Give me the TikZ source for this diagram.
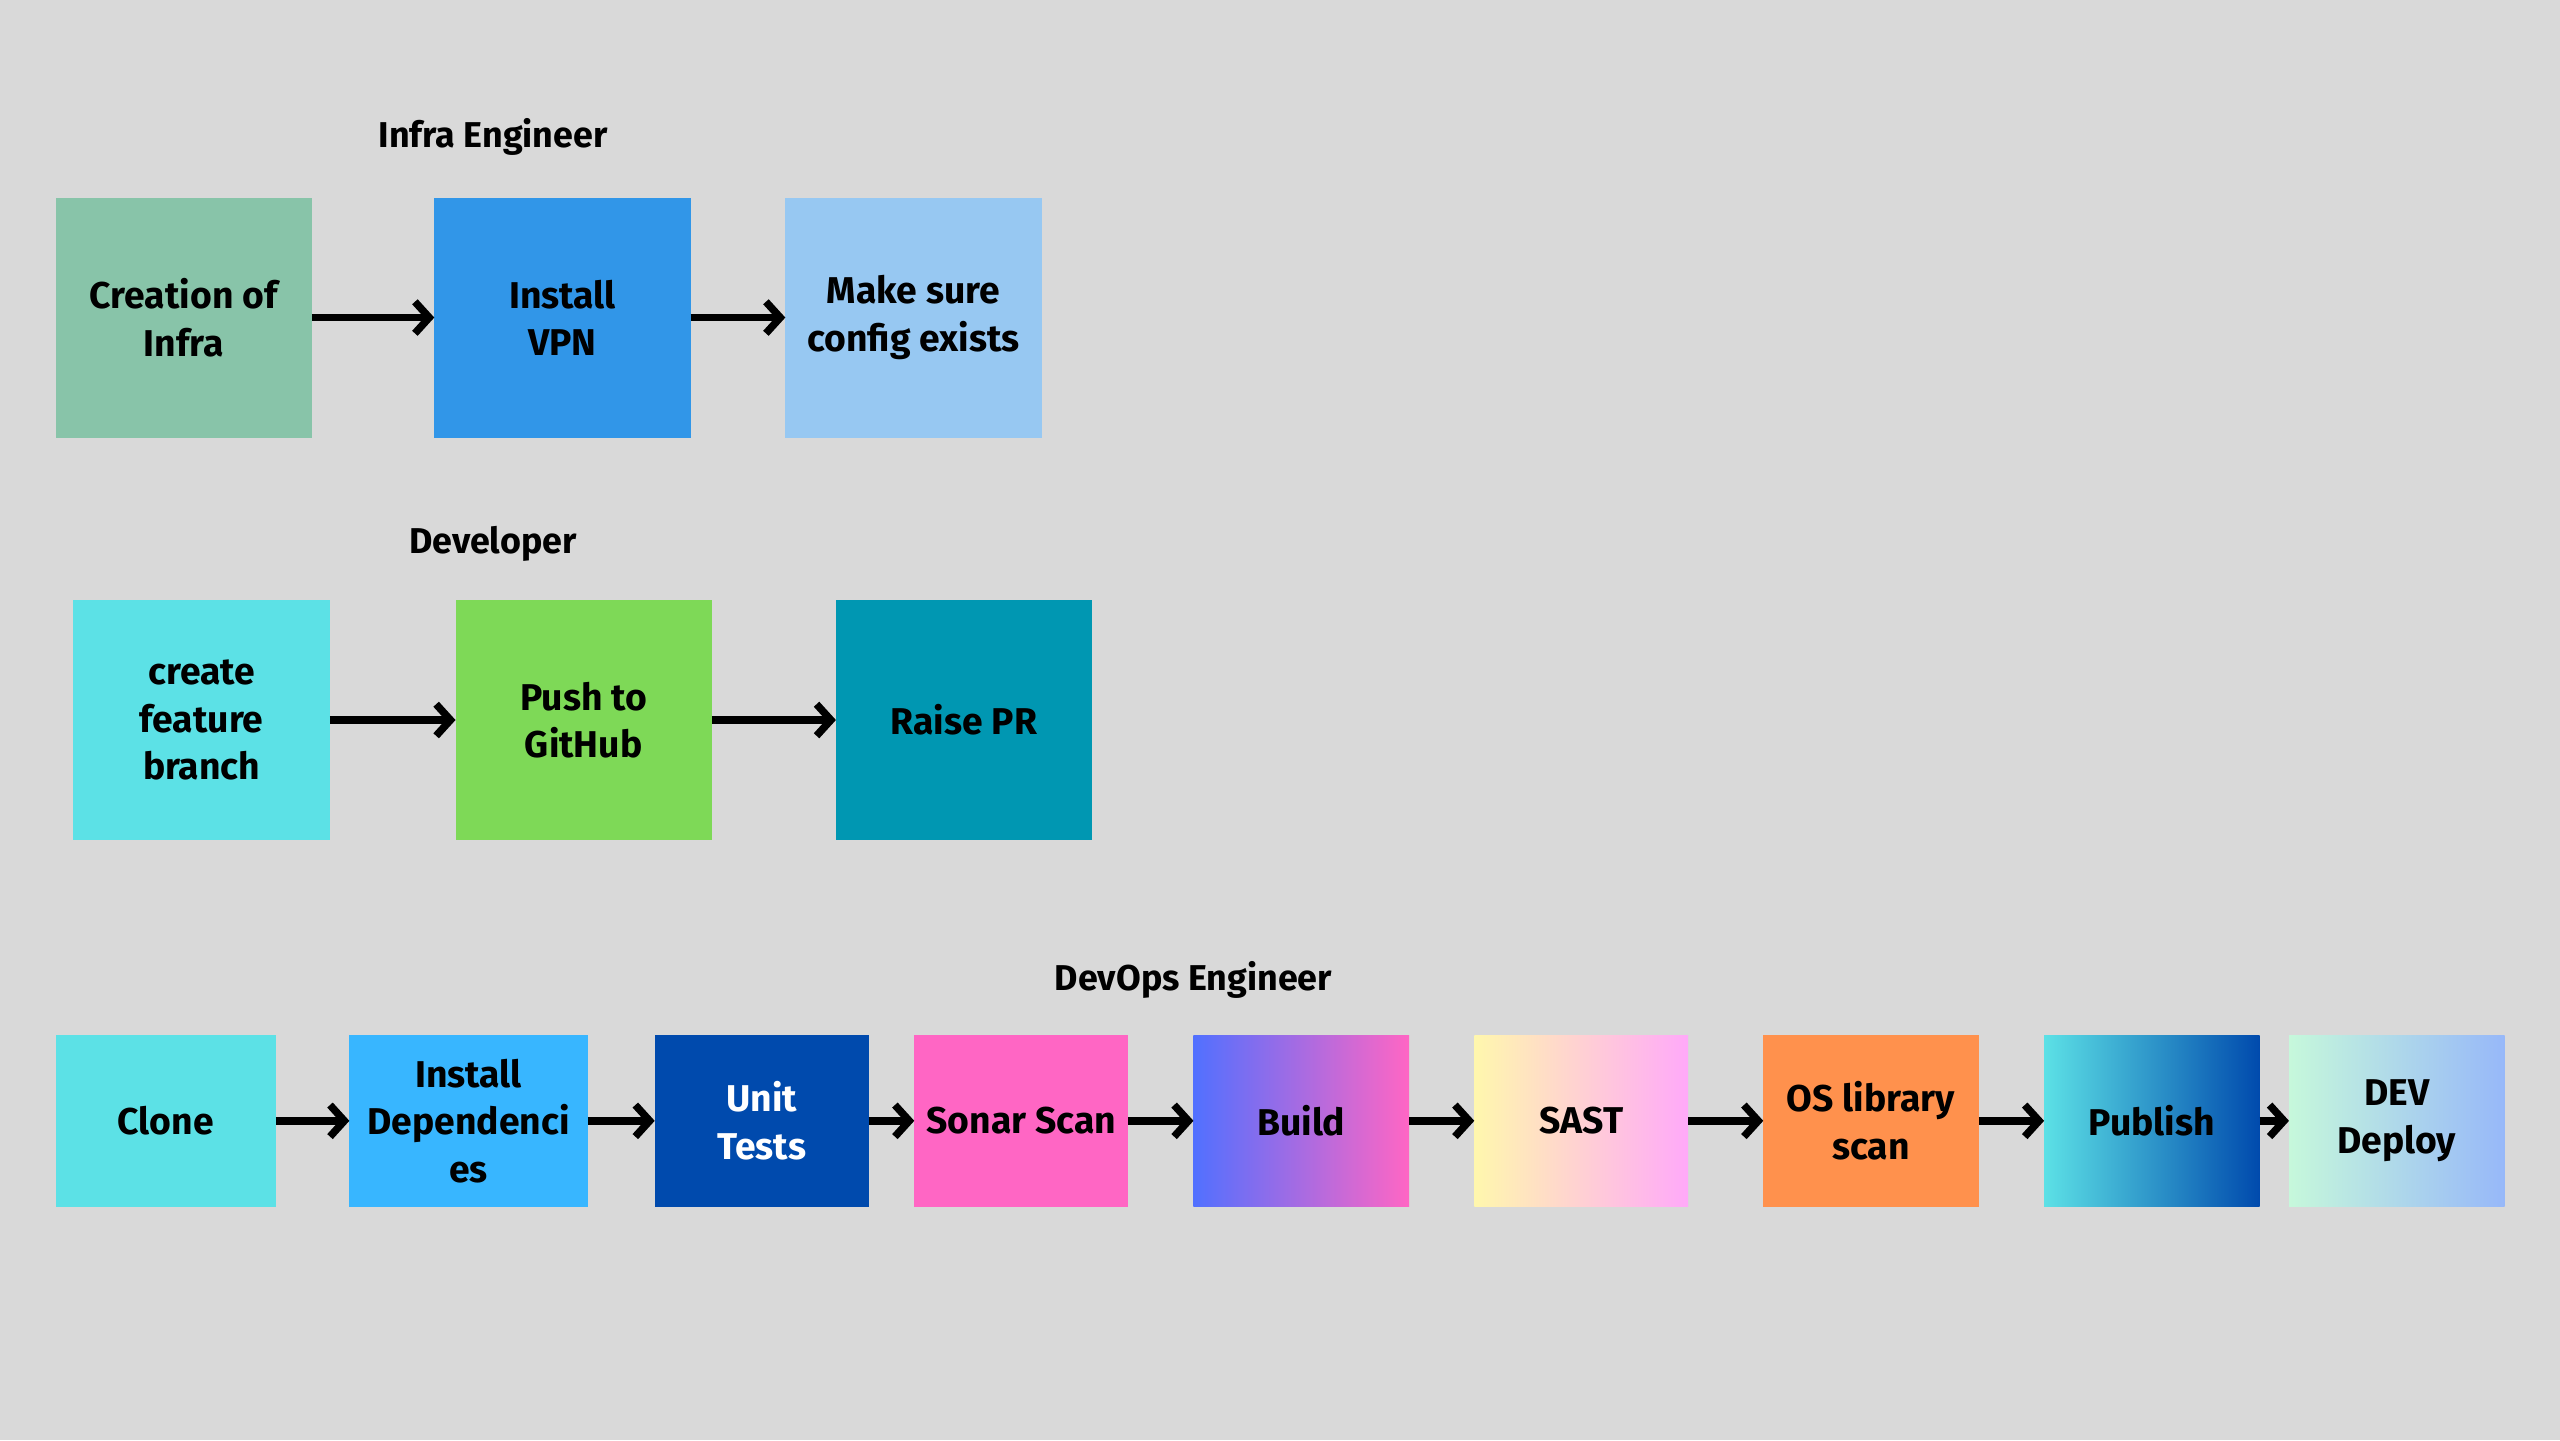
\documentclass[tikz,border=0pt]{standalone}
\usepackage{fontspec}
\setmainfont{Fira Sans}
\usetikzlibrary{positioning,arrows.meta}

\definecolor{bgcol}{HTML}{D9D9D9}
\definecolor{infragreen}{HTML}{88C4A9}
\definecolor{vpnblue}{HTML}{3196E8}
\definecolor{cfgblue}{HTML}{97C8F2}
\definecolor{aqua}{HTML}{5CE1E6}
\definecolor{lime}{HTML}{7ED957}
\definecolor{teal}{HTML}{0097B2}
\definecolor{sky}{HTML}{38B6FF}
\definecolor{navy}{HTML}{004AAD}
\definecolor{pink}{HTML}{FF66C4}
\definecolor{violet}{HTML}{5170FF}
\definecolor{cream}{HTML}{FFF7AD}
\definecolor{lilac}{HTML}{FFA9F9}
\definecolor{orange}{HTML}{FF914D}
\definecolor{mint}{HTML}{C6F8DB}
\definecolor{periwinkle}{HTML}{97B8F9}

\begin{document}
\begin{tikzpicture}[
	main/.style={rectangle, align=center, inner sep=0pt, outer sep=0pt, minimum width=3.14cm, minimum height=2.94cm, font=\fontsize{13}{16.5}\selectfont\bfseries},
	step3/.style={main, minimum width=2.64cm, minimum height=2.1cm},
	title/.style={font=\fontsize{12.5}{15}\selectfont\bfseries},
	arr/.style={-{Straight Barb[length=5pt,width=11pt]}, line width=2.6pt}
	]

	\fill [bgcol] (0,0) rectangle (31.36,-17.64);
	\useasboundingbox (0,0) rectangle (31.36,-17.64);

	% Infra Engineer
	\node (infratitle) [title] at (6.04,-1.68) {Infra Engineer};
	\node (creation) [main, fill=infragreen] at (2.25,-3.89) {Creation of\\Infra};
	\node (vpn) [main, fill=vpnblue, right=1.5cm of creation] {Install\\VPN};
	\node (config) [main, fill=cfgblue, right=1.16cm of vpn] {Make sure\\config exists};

	% Developer
	\node (devtitle) [title] at (6.04,-6.66) {Developer};
	\node (feature) [main, fill=aqua] at (2.47,-8.82) {create\\feature\\branch};
	\node (push) [main, fill=lime, right=1.54cm of feature] {Push to\\GitHub};
	\node (pr) [main, fill=teal, right=1.52cm of push] {Raise PR};

	% DevOps Engineer
	\node (opstitle) [title] at (14.62,-12.0) {DevOps Engineer};
	\node (clone) [step3, fill=aqua, minimum width=2.7cm] at (2.03,-13.73) {Clone};
	\node (deps) [step3, fill=sky, minimum width=2.92cm, right=0.9cm of clone] {Install\\Dependenci\\es};
	\node (unit) [step3, fill=navy, text=white, minimum width=2.62cm, right=0.82cm of deps] {Unit\\Tests};
	\node (sonar) [step3, fill=pink, minimum width=2.62cm, right=0.56cm of unit] {Sonar Scan};
	\node (build) [step3, left color=violet, right color=pink, right=0.8cm of sonar] {Build};
	\node (sast) [step3, left color=cream, right color=lilac, minimum width=2.62cm, right=0.8cm of build] {SAST};
	\node (oslib) [step3, fill=orange, right=0.92cm of sast] {OS library\\scan};
	\node (publish) [step3, left color=aqua, right color=navy, right=0.8cm of oslib] {Publish};
	\node (deploy) [step3, left color=mint, right color=periwinkle, right=0.36cm of publish] {DEV\\Deploy};

	\draw [arr] (creation.east) -- (vpn.west);
	\draw [arr] (vpn.east) -- (config.west);

	\draw [arr] (feature.east) -- (push.west);
	\draw [arr] (push.east) -- (pr.west);

	\draw [arr] (clone.east) -- (deps.west);
	\draw [arr] (deps.east) -- (unit.west);
	\draw [arr] (unit.east) -- (sonar.west);
	\draw [arr] (sonar.east) -- (build.west);
	\draw [arr] (build.east) -- (sast.west);
	\draw [arr] (sast.east) -- (oslib.west);
	\draw [arr] (oslib.east) -- (publish.west);
	\draw [arr] (publish.east) -- (deploy.west);

\end{tikzpicture}
\end{document}
